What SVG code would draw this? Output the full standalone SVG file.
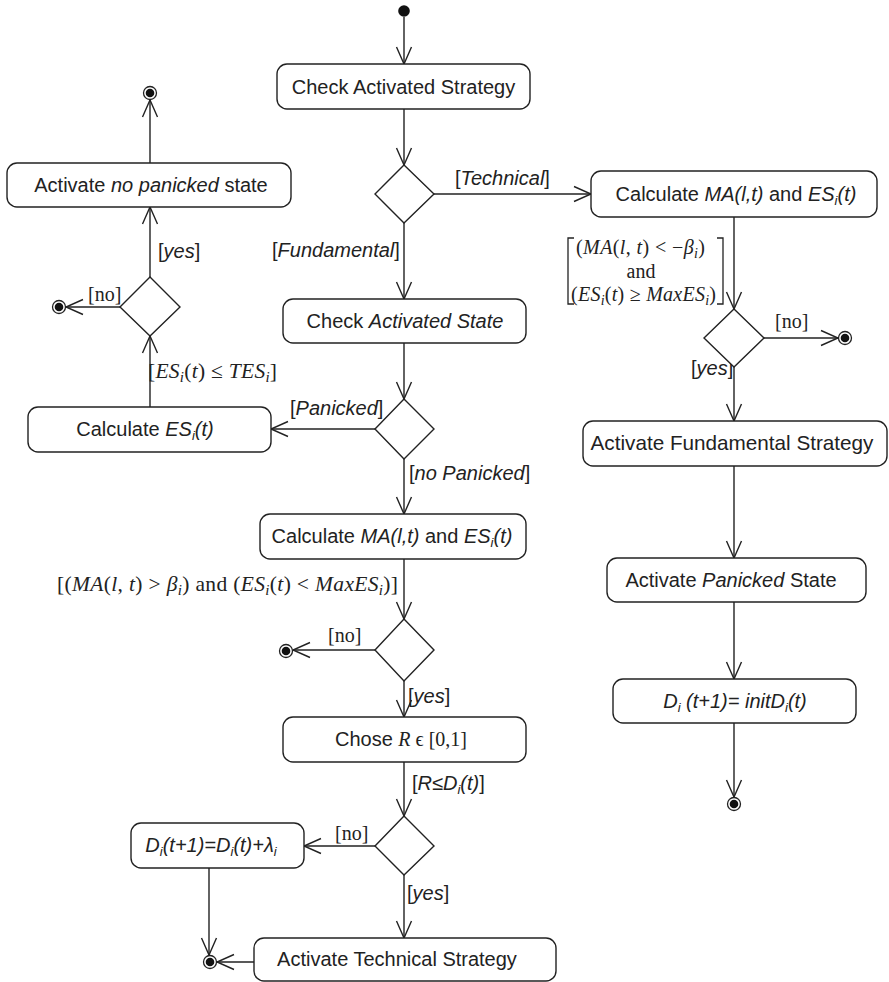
<svg xmlns="http://www.w3.org/2000/svg" width="889" height="982" viewBox="0 0 889 982">
<style>
.box{fill:#fff;stroke:#222;stroke-width:1.4}
.dia{fill:#fff;stroke:#222;stroke-width:1.4}
.ln{fill:none;stroke:#222;stroke-width:1.4;marker-end:url(#arr)}
.t{font-family:"Liberation Sans",Arial,sans-serif;font-size:20px;fill:#222}
.m{font-family:"Liberation Serif","Times New Roman",serif;font-size:20px;fill:#222}
.i{font-style:italic}
.br{fill:none;stroke:#222;stroke-width:1.3}
</style>
<defs>
<marker id="arr" markerUnits="userSpaceOnUse" markerWidth="20" markerHeight="20" refX="0" refY="0" orient="auto" overflow="visible">
<path d="M-17,-7.5 L0,0 L-17,7.5" fill="none" stroke="#222" stroke-width="1.4"/>
</marker>
<g id="fin"><circle r="6.5" fill="#fff" stroke="#222" stroke-width="1.3"/><circle r="4.3" fill="#111"/></g>
</defs>

<g id="connectors">
<path class="ln" d="M404,17 V64"/>
<path class="ln" d="M404,109 V165"/>
<path class="ln" d="M434,194 H591"/>
<path class="ln" d="M404,223 V299"/>
<path class="ln" d="M734,217 V309"/>
<path class="ln" d="M764,338 H838"/>
<path class="ln" d="M734,367 V421"/>
<path class="ln" d="M734,466 V558"/>
<path class="ln" d="M734,602 V679"/>
<path class="ln" d="M734,723 V797"/>
<path class="ln" d="M404,343 V399"/>
<path class="ln" d="M375,429 H271"/>
<path class="ln" d="M150,407 V336"/>
<path class="ln" d="M150,277 V207"/>
<path class="ln" d="M120,307 H66"/>
<path class="ln" d="M150,163 V100"/>
<path class="ln" d="M404,459 V514"/>
<path class="ln" d="M404,559 V619"/>
<path class="ln" d="M375,650 H293"/>
<path class="ln" d="M404,681 V717"/>
<path class="ln" d="M404,762 V816"/>
<path class="ln" d="M375,846 H304"/>
<path class="ln" d="M404,875 V938"/>
<path class="ln" d="M209,868 V955"/>
<path class="ln" d="M254,962 H217"/>

<text class="t" x="455" y="185">[<tspan class="i">Technical</tspan>]</text>
<text class="t" x="272" y="257">[<tspan class="i">Fundamental</tspan>]</text>
<text class="m" x="775" y="328">[no]</text>
<text class="t" x="691" y="375">[<tspan class="i">yes</tspan>]</text>
<text class="t" x="290" y="415">[<tspan class="i">Panicked</tspan>]</text>
<text class="t" x="409" y="480">[<tspan class="i">no Panicked</tspan>]</text>
<text class="t" x="158" y="258">[<tspan class="i">yes</tspan>]</text>
<text class="m" x="88" y="301">[no]</text>
<text class="m" x="328" y="642">[no]</text>
<text class="t" x="408" y="703">[<tspan class="i">yes</tspan>]</text>
<text class="t" x="412" y="790">[<tspan class="i">R</tspan>≤<tspan class="i">D<tspan font-size="13" dy="4">i</tspan><tspan dy="-4">(t)</tspan></tspan>]</text>
<text class="m" x="335" y="840">[no]</text>
<text class="t" x="407" y="900">[<tspan class="i">yes</tspan>]</text>

<text class="m" x="148" y="378" style="font-size:21.5px" textLength="129" lengthAdjust="spacing">[<tspan class="i">ES</tspan><tspan class="i" font-size="15" dy="4">i</tspan><tspan dy="-4">(</tspan><tspan class="i">t</tspan>) ≤ <tspan class="i">TES</tspan><tspan class="i" font-size="15" dy="4">i</tspan><tspan dy="-4">]</tspan></text>

<text class="m" x="57" y="591" style="font-size:21.5px" textLength="341" lengthAdjust="spacing">[(<tspan class="i">MA</tspan>(<tspan class="i">l</tspan>, <tspan class="i">t</tspan>) &gt; <tspan class="i">β</tspan><tspan class="i" font-size="15" dy="4">i</tspan><tspan dy="-4">) and (</tspan><tspan class="i">ES</tspan><tspan class="i" font-size="15" dy="4">i</tspan><tspan dy="-4">(</tspan><tspan class="i">t</tspan>) &lt; <tspan class="i">MaxES</tspan><tspan class="i" font-size="15" dy="4">i</tspan><tspan dy="-4">)]</tspan></text>

<text class="m" x="576" y="254" textLength="129" lengthAdjust="spacing">(<tspan class="i">MA</tspan>(<tspan class="i">l</tspan>, <tspan class="i">t</tspan>) &lt; −<tspan class="i">β</tspan><tspan class="i" font-size="14" dy="4">i</tspan><tspan dy="-4">)</tspan></text>
<text class="m" x="641" y="278" text-anchor="middle">and</text>
<text class="m" x="571" y="301" textLength="145" lengthAdjust="spacing">(<tspan class="i">ES</tspan><tspan class="i" font-size="14" dy="4">i</tspan><tspan dy="-4">(</tspan><tspan class="i">t</tspan>) ≥ <tspan class="i">MaxES</tspan><tspan class="i" font-size="14" dy="4">i</tspan><tspan dy="-4">)</tspan></text>
<path class="br" d="M574,238 H568 V304 H574"/>
<path class="br" d="M717,238 H723 V304 H717"/>
</g>

<g id="start"><circle cx="404" cy="11" r="5.8" fill="#111"/></g>

<g id="n1"><rect class="box" x="277" y="64" width="253" height="45" rx="10"/>
<text class="t" x="403.5" y="93.5" text-anchor="middle">Check Activated Strategy</text></g>

<g id="d1"><path class="dia" d="M404,165 L434,194 L404,223 L375,194 Z"/></g>

<g id="n2"><rect class="box" x="591" y="171" width="286" height="46" rx="10"/>
<text class="t" x="736" y="201" text-anchor="middle">Calculate <tspan class="i">MA(l,t)</tspan> and <tspan class="i">ES<tspan font-size="13" dy="4">i</tspan><tspan dy="-4">(t)</tspan></tspan></text></g>

<g id="d2"><path class="dia" d="M734,309 L764,338 L734,367 L704,338 Z"/></g>

<g id="n3"><rect class="box" x="7" y="163" width="284" height="44" rx="10"/>
<text class="t" x="151" y="192" text-anchor="middle">Activate <tspan class="i">no panicked</tspan> state</text></g>

<g id="d3"><path class="dia" d="M150,277 L180,307 L150,336 L120,307 Z"/></g>

<g id="n4"><rect class="box" x="283" y="299" width="243" height="44" rx="10"/>
<text class="t" x="405" y="328" text-anchor="middle">Check <tspan class="i">Activated State</tspan></text></g>

<g id="d4"><path class="dia" d="M404,399 L434,429 L404,459 L375,429 Z"/></g>

<g id="n5"><rect class="box" x="28" y="407" width="243" height="45" rx="10"/>
<text class="t" x="145" y="436" text-anchor="middle">Calculate <tspan class="i">ES<tspan font-size="13" dy="4">i</tspan><tspan dy="-4">(t)</tspan></tspan></text></g>

<g id="n6"><rect class="box" x="583" y="421" width="304" height="45" rx="10"/>
<text class="t" x="732" y="450" text-anchor="middle" style="font-size:20.7px">Activate Fundamental Strategy</text></g>

<g id="n7"><rect class="box" x="260" y="514" width="266" height="45" rx="10"/>
<text class="t" x="392" y="543" text-anchor="middle">Calculate <tspan class="i">MA(l,t)</tspan> and <tspan class="i">ES<tspan font-size="13" dy="4">i</tspan><tspan dy="-4">(t)</tspan></tspan></text></g>

<g id="n8"><rect class="box" x="607" y="558" width="259" height="44" rx="10"/>
<text class="t" x="731" y="587" text-anchor="middle">Activate <tspan class="i">Panicked</tspan> State</text></g>

<g id="d5"><path class="dia" d="M404,619 L434,650 L404,681 L375,650 Z"/></g>

<g id="n9"><rect class="box" x="283" y="717" width="243" height="45" rx="10"/>
<text class="t" x="401" y="746" text-anchor="middle">Chose <tspan class="m i">R</tspan><tspan class="m"> ϵ [0,1]</tspan></text></g>

<g id="n10"><rect class="box" x="613" y="679" width="243" height="44" rx="10"/>
<text class="t i" x="735" y="708" text-anchor="middle">D<tspan font-size="13" dy="4">i</tspan><tspan dy="-4"> (t+1)= initD</tspan><tspan font-size="13" dy="4">i</tspan><tspan dy="-4">(t)</tspan></text></g>

<g id="d6"><path class="dia" d="M404,816 L434,846 L404,875 L375,846 Z"/></g>

<g id="n11"><rect class="box" x="131" y="823" width="173" height="45" rx="10"/>
<text class="t i" x="211" y="852" text-anchor="middle">D<tspan font-size="13" dy="4">i</tspan><tspan dy="-4">(t+1)=D</tspan><tspan font-size="13" dy="4">i</tspan><tspan dy="-4">(t)+λ</tspan><tspan font-size="13" dy="4">i</tspan></text></g>

<g id="n12"><rect class="box" x="254" y="938" width="302" height="43" rx="10"/>
<text class="t" x="397" y="966" text-anchor="middle">Activate Technical Strategy</text></g>

<g id="f1"><use href="#fin" x="150" y="93"/></g>
<g id="f2"><use href="#fin" x="59" y="307"/></g>
<g id="f3"><use href="#fin" x="845" y="338"/></g>
<g id="f4"><use href="#fin" x="286" y="651"/></g>
<g id="f5"><use href="#fin" x="734" y="804"/></g>
<g id="f6"><use href="#fin" x="210" y="962"/></g>
</svg>
